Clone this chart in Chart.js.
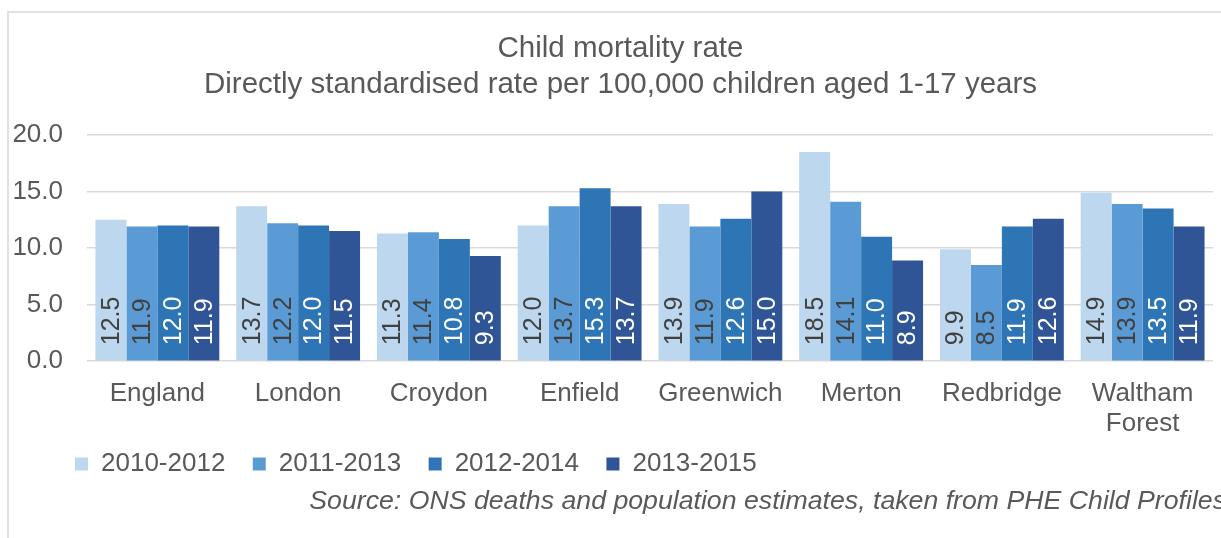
<!DOCTYPE html>
<html>
<head>
<meta charset="utf-8">
<script src="https://cdn.jsdelivr.net/npm/chart.js@4.4.0/dist/chart.umd.min.js"></script>
<style>
  html, body { margin: 0; padding: 0; background: #fff; }
  #wrap { width: 1221px; height: 538px; }
</style>
</head>
<body>
<div id="wrap"><canvas id="mortality"></canvas></div>
<script>
const areas = ['England', 'London', 'Croydon', 'Enfield', 'Greenwich', 'Merton', 'Redbridge', ['Waltham', 'Forest']];
const period_labels = ['2010-2012', '2011-2013', '2012-2014', '2013-2015'];
const rates_2010_2012 = [12.5, 13.7, 11.3, 12.0, 13.9, 18.5, 9.9, 14.9];
const rates_2011_2013 = [11.9, 12.2, 11.4, 13.7, 11.9, 14.1, 8.5, 13.9];
const rates_2012_2014 = [12.0, 12.0, 10.8, 15.3, 12.6, 11.0, 11.9, 13.5];
const rates_2013_2015 = [11.9, 11.5, 9.3, 13.7, 15.0, 8.9, 12.6, 11.9];
const y_ticks = [0, 5, 10, 15, 20];

const bar_colours = ['#BDD7EE', '#5B9BD5', '#2E75B6', '#2F5597'];
const label_colours = ['#404040', '#404040', '#ffffff', '#ffffff'];
const text_grey = '#595959';
const font_family = '"Liberation Sans", Arial, sans-serif';

// rotated value labels sitting at the foot of each bar
const barLabels = {
  id: 'barLabels',
  afterDatasetsDraw(chart) {
    const ctx = chart.ctx;
    const base = chart.scales.y.getPixelForValue(0);
    ctx.save();
    ctx.font = '25px ' + font_family;
    ctx.textAlign = 'left';
    ctx.textBaseline = 'middle';
    chart.data.datasets.forEach((ds, i) => {
      chart.getDatasetMeta(i).data.forEach((bar, j) => {
        ctx.save();
        ctx.translate(bar.x + 1, base - 16);
        ctx.rotate(-Math.PI / 2);
        ctx.fillStyle = label_colours[i];
        ctx.fillText(ds.data[j].toFixed(1), 0, 0);
        ctx.restore();
      });
    });
    ctx.restore();
  }
};

// nudge title and legend like the excel original
const blockShift = {
  id: 'blockShift',
  afterLayout(chart) {
    const lg = chart.legend;
    lg.left += 50;
    lg.right += 50;
    lg.top -= 11;
    lg.bottom -= 11;
    const tb = chart.titleBlock;
    tb.left += 8;
    tb.right += 8;
  }
};

// outer frame + source note
const frameAndSource = {
  id: 'frameAndSource',
  beforeDraw(chart) {
    const ctx = chart.ctx;
    ctx.save();
    ctx.strokeStyle = '#d9d9d9';
    ctx.lineWidth = 1.5;
    ctx.strokeRect(8, 12, 1400, 800);
    ctx.restore();
  },
  afterDraw(chart) {
    const ctx = chart.ctx;
    ctx.save();
    ctx.font = 'italic 26.7px ' + font_family;
    ctx.fillStyle = text_grey;
    ctx.textAlign = 'right';
    ctx.textBaseline = 'middle';
    ctx.fillText('Source: ONS deaths and population estimates, taken from PHE Child Profiles', 1226, 502);
    ctx.restore();
  }
};

const series = [rates_2010_2012, rates_2011_2013, rates_2012_2014, rates_2013_2015];

new Chart(document.getElementById('mortality'), {
  type: 'bar',
  data: {
    labels: areas,
    datasets: series.map((d, i) => ({
      label: period_labels[i],
      data: d,
      backgroundColor: bar_colours[i],
      borderWidth: 0,
      categoryPercentage: 0.88,
      barPercentage: 1.0
    }))
  },
  options: {
    responsive: true,
    maintainAspectRatio: false,
    animation: false,
    layout: { padding: { left: 12, right: 8, top: 31, bottom: 40 } },
    plugins: {
      title: {
        display: true,
        text: ['Child mortality rate', 'Directly standardised rate per 100,000 children aged 1-17 years'],
        color: text_grey,
        font: { family: font_family, size: 29.5, weight: 'normal', lineHeight: 1.22 },
        padding: { top: 0, bottom: 32 }
      },
      legend: {
        position: 'bottom',
        align: 'start',
        labels: {
          color: text_grey,
          boxWidth: 13,
          boxHeight: 13,
          padding: 13,
          font: { family: font_family, size: 26 },
          // two trailing spaces widen the gap between items without a tall legend box
          generateLabels: chart => Chart.defaults.plugins.legend.labels.generateLabels(chart)
            .map(item => Object.assign(item, { text: item.text + '  ' }))
        }
      },
      tooltip: { enabled: false }
    },
    scales: {
      x: {
        grid: { display: false },
        border: { display: false },
        ticks: {
          color: text_grey,
          padding: 10,
          maxRotation: 0,
          font: { family: font_family, size: 26, lineHeight: 1.15 }
        }
      },
      y: {
        min: 0,
        max: 20,
        afterBuildTicks: axis => { axis.ticks = y_ticks.map(v => ({ value: v })); },
        afterFit: axis => { axis.width = 75; },
        grid: { color: '#d9d9d9', lineWidth: 1.5, drawTicks: false },
        border: { display: false },
        ticks: {
          color: text_grey,
          padding: 24,
          callback: v => v.toFixed(1),
          font: { family: font_family, size: 26 }
        }
      }
    }
  },
  plugins: [barLabels, blockShift, frameAndSource]
});
</script>
</body>
</html>
